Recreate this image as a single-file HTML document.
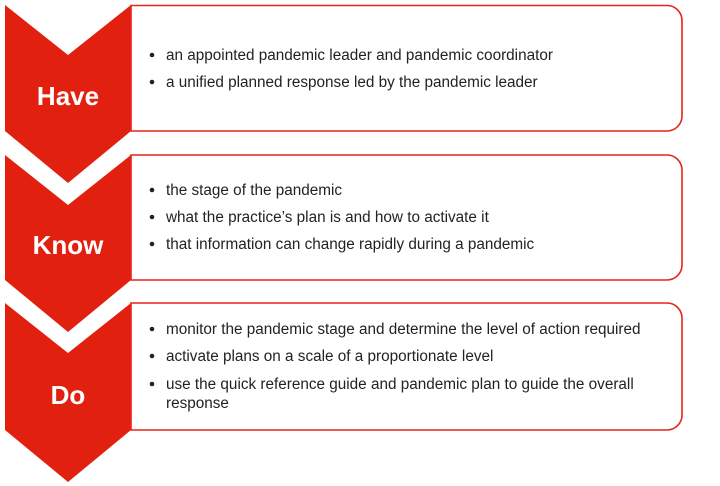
<!DOCTYPE html>
<html><head><meta charset="utf-8"><style>
html,body{margin:0;padding:0;background:#fff;width:720px;height:486px;overflow:hidden}
svg{display:block}
text{font-family:"Liberation Sans",Arial,sans-serif}
.t{font-size:15.3px;fill:#222}
.l{font-size:26px;font-weight:bold;fill:#fff}
.b{fill:#222}
</style></head><body>
<svg width="720" height="486" viewBox="0 0 720 486" xmlns="http://www.w3.org/2000/svg">
<g fill="#e2200f">
<polygon points="5,5 68,55 131,5 131,131 68,183 5,131"/>
<polygon points="5,155 68,205 131,155 131,280 68,332 5,280"/>
<polygon points="5,303 68,353 131,303 131,430 68,482 5,430"/>
</g>
<g fill="#fff" stroke="#e8231a" stroke-width="1.6">
<path d="M131,5.5 H667 A15,15 0 0 1 682,20.5 V116 A15,15 0 0 1 667,131 H131 Z"/>
<path d="M131,155 H667 A15,15 0 0 1 682,170 V265 A15,15 0 0 1 667,280 H131 Z"/>
<path d="M131,303 H667 A15,15 0 0 1 682,318 V415 A15,15 0 0 1 667,430 H131 Z"/>
</g>
<text class="l" x="68" y="105" text-anchor="middle">Have</text>
<text class="l" x="68" y="254" text-anchor="middle">Know</text>
<text class="l" x="68" y="404" text-anchor="middle">Do</text>
<g class="b">
<circle cx="152" cy="55" r="2.3"/><circle cx="152" cy="82" r="2.3"/>
<circle cx="152" cy="190" r="2.3"/><circle cx="152" cy="217" r="2.3"/><circle cx="152" cy="244" r="2.3"/>
<circle cx="152" cy="329" r="2.3"/><circle cx="152" cy="356" r="2.3"/><circle cx="152" cy="384" r="2.3"/>
</g>
<text class="t" x="166" y="60">an appointed pandemic leader and pandemic coordinator</text>
<text class="t" x="166" y="87">a unified planned response led by the pandemic leader</text>
<text class="t" x="166" y="195">the stage of the pandemic</text>
<text class="t" x="166" y="222">what the practice’s plan is and how to activate it</text>
<text class="t" x="166" y="249">that information can change rapidly during a pandemic</text>
<text class="t" x="166" y="334">monitor the pandemic stage and determine the level of action required</text>
<text class="t" x="166" y="361">activate plans on a scale of a proportionate level</text>
<text class="t" x="166" y="389">use the quick reference guide and pandemic plan to guide the overall</text>
<text class="t" x="166" y="408">response</text>
</svg>
</body></html>
